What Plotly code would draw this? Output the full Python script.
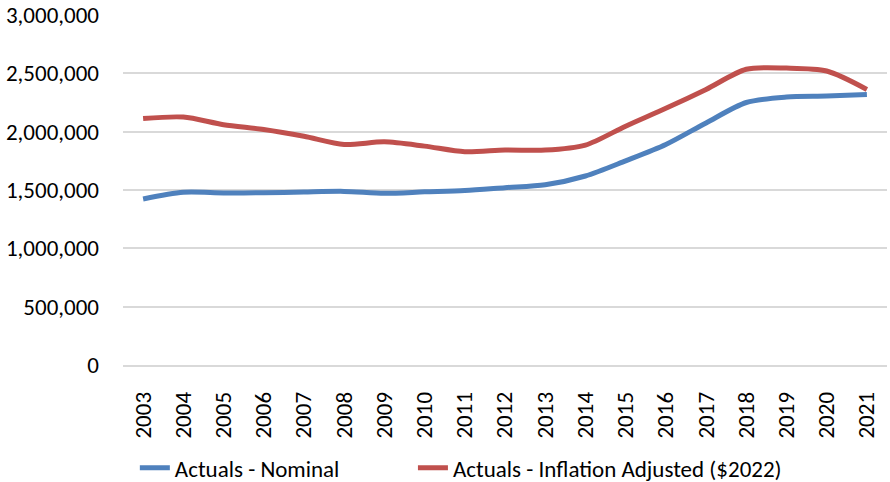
import plotly.graph_objects as go

years = [str(y) for y in range(2003, 2022)]
nominal = [1423000, 1480000, 1475000, 1476000, 1483000, 1488000, 1472000, 1484000, 1495000,
           1520000, 1545000, 1620000, 1750000, 1890000, 2075000, 2250000, 2297000, 2305000, 2318000]
adjusted = [2112000, 2125000, 2060000, 2018000, 1960000, 1890000, 1913000, 1876000, 1828000,
            1843000, 1842000, 1885000, 2047000, 2200000, 2362000, 2535000, 2545000, 2520000, 2362000]
series_names = ["Actuals - Nominal", "Actuals - Inflation Adjusted ($2022)"]
colors = ["#4F81BD", "#C0504D"]

FONT = "Carlito, Lato, Liberation Sans, Arial, sans-serif"

fig = go.Figure()
legends = ["legend", "legend2"]
for name, vals, c, lg in zip(series_names, [nominal, adjusted], colors, legends):
    fig.add_trace(go.Scatter(x=years, y=vals, name=name, mode="lines", legend=lg,
                             line=dict(color=c, width=5, shape="spline", smoothing=0.8)))

leg_common = dict(orientation="h", yanchor="middle", xanchor="left",
                  font=dict(size=23, family=FONT), itemwidth=30, bgcolor="rgba(0,0,0,0)")

fig.update_layout(
    width=890, height=500,
    margin=dict(l=123, r=3, t=15, b=135),
    paper_bgcolor="white", plot_bgcolor="white",
    font=dict(family=FONT, size=23, color="#000000"),
    xaxis=dict(type="category", tickangle=-90, showgrid=False, showline=True,
               range=[-0.5, 18.5], automargin=False,
               linecolor="#d9d9d9", linewidth=1.5, ticks="", tickfont=dict(size=23),
               ticklabelstandoff=16),
    yaxis=dict(range=[0, 3000000], dtick=500000, tickformat=",d", showgrid=True,
               gridcolor="#d9d9d9", gridwidth=1.5, zeroline=False, ticks="",
               automargin=False, ticklabeloverflow="allow",
               tickfont=dict(size=23), ticklabelstandoff=23),
    legend=dict(x=0.0155, y=-0.294, **leg_common),
    legend2=dict(x=0.3795, y=-0.294, **leg_common),
    showlegend=True,
)

fig.write_html("out.html", config={"displayModeBar": False},
               post_script="document.body.style.margin='0px';")
